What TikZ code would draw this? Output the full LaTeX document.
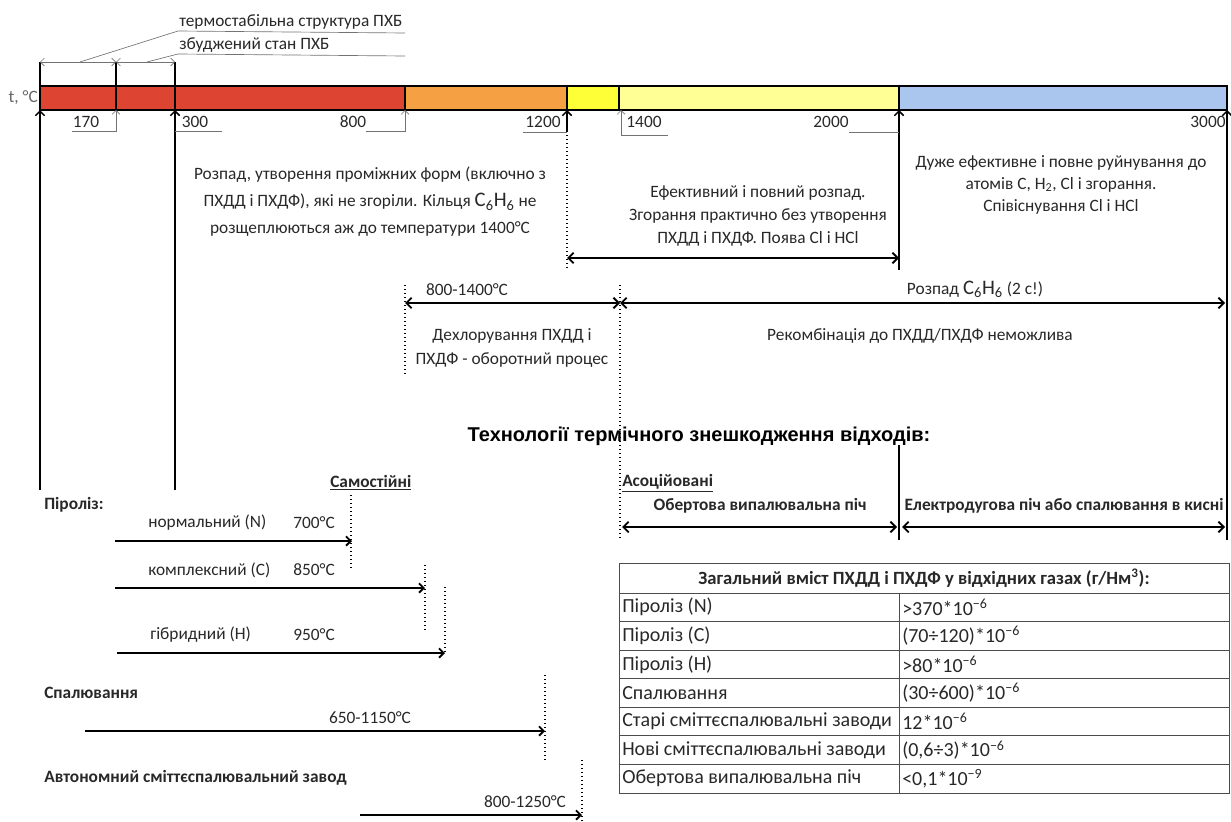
\documentclass[tikz,border=0pt]{standalone}
\usepackage{fontspec}
\setmainfont{Carlito}
\newfontfamily\titlefont{Liberation Sans}
\usetikzlibrary{arrows.meta}

\definecolor{barred}{RGB}{222,68,50}
\definecolor{barorange}{RGB}{245,160,66}
\definecolor{baryellow}{RGB}{255,255,56}
\definecolor{barlight}{RGB}{255,255,150}
\definecolor{barblue}{RGB}{170,198,238}
\definecolor{inkgray}{RGB}{40,40,40}

\newcommand{\benz}{{\fontsize{15.5}{15.5}\selectfont C\textsubscript{6}H\textsubscript{6}}}

\begin{document}
\begin{tikzpicture}[x=0.75pt,y=0.75pt,yscale=-1,xscale=1,
  lbl/.style={inner sep=0.75pt,text=inkgray,font=\fontsize{13}{15}\selectfont},
  blbl/.style={inner sep=0.75pt,text=inkgray,font=\fontsize{13}{15}\selectfont\bfseries},
  tcell/.style={inner sep=0.75pt,text=inkgray,font=\fontsize{15}{17}\selectfont},
  thinarr/.style={draw=black!55,line width=0.5pt,-{Straight Barb[length=3pt,width=6pt]}},
  thickarr/.style={line width=1.1pt,-{Straight Barb[length=3.5pt,width=7pt]}},
  dblarr/.style={line width=1.4pt,{Straight Barb[length=4pt,width=8pt]}-{Straight Barb[length=4pt,width=8pt]}},
  topdbl/.style={draw=black!55,line width=0.5pt,{Straight Barb[length=3pt,width=6pt]}-{Straight Barb[length=3pt,width=6pt]}},
  leader/.style={draw=black!55,line width=0.5pt},
  dotline/.style={line width=1pt,dotted},
  seg/.style={draw=black,line width=0.8pt}]
\useasboundingbox (0,0) rectangle (1231,821);

% temperature bar
\foreach \a/\b/\c in {40/116/barred,116/175/barred,175/405/barred,405/567/barorange,
  567/619/baryellow,619/899/barlight,899/1227/barblue}
  \draw[seg,fill=\c] (\a,86) rectangle (\b,110);
\node[lbl,anchor=east,text=black!60] (tlab) at (39,98) {t, °C};

% tick points under the bar
\coordinate (t0) at (40,110);
\coordinate (t170) at (116,110);
\coordinate (t300) at (175,110);
\coordinate (t800) at (405,110);
\coordinate (t1200) at (567,110);
\coordinate (t1400) at (621,110);
\coordinate (t2000) at (899,110);
\coordinate (t3000) at (1227,110);

% PCB brackets over the bar
\coordinate (p0) at (40,62);
\coordinate (p1) at (116,62);
\coordinate (p2) at (175,62);
\draw[line width=0.8pt] (p0) -- (40,86) (p1) -- (t170) (p2) -- (t300);
\draw[topdbl] (p0) -- (p1);
\draw[topdbl] (p1) -- (p2);
\node[lbl,anchor=south west] (stab) at (178,31) {термостабільна структура ПХБ};
\node[lbl,anchor=south west] (exc) at (178,54) {збуджений стан ПХБ};
\draw[leader] (80,62) -- (stab.south west) -- (405,33);
\draw[leader] (147,62) -- (exc.south west) -- (405,56);

% Text Node: tick values
\node[lbl] (n170) at (86,122) {170};
\node[lbl] (n300) at (195,122) {300};
\node[lbl] (n800) at (353,122) {800};
\node[lbl] (n1200) at (543,122) {1200};
\node[lbl] (n1400) at (644,122) {1400};
\node[lbl] (n2000) at (831,122) {2000};
\node[lbl] (n3000) at (1208,122) {3000};

% long markers from below
\coordinate (b0) at (40,490);
\coordinate (b300) at (175,490);
\coordinate (b2000) at (899,270);
\coordinate (b3000) at (1227,540);
\draw[thickarr] (b0) -- (t0);
\draw[thickarr] (b300) -- (t300);
\draw[thickarr] (b2000) -- (t2000);
\draw[thickarr] (b3000) -- (t3000);
\draw[thickarr] (567,131) -- (t1200);

% leaders for the values
\draw[thinarr] (72,131) -- (116,131) -- (t170);
\draw[leader] (175,131) -- (222,131);
\draw[thinarr] (366,131) -- (405,131) -- (t800);
\draw[leader] (523,132) -- (567,132);
\draw[thinarr] (668,135) -- (621,135) -- (t1400);
\draw[leader] (849,132) -- (899,132);

% dotted limits
\draw[dotline] (567,131) -- (567,270);
\draw[dotline] (405,285) -- (405,375);
\draw[dotline] (620,285) -- (620,540);

% Text Node: zones of decomposition
\node[lbl,align=center,font=\fontsize{13}{20.2}\selectfont] (zone1) at (370,202)
  {Розпад, утворення проміжних форм (включно з\\ПХДД і ПХДФ), які не згоріли. Кільця \benz{} не\\розщеплюються аж до температури 1400°C};
\node[lbl,align=center,font=\fontsize{13}{17}\selectfont] (zone2) at (758,216)
  {Ефективний і повний розпад.\\Згорання практично без утворення\\ПХДД і ПХДФ. Поява Cl і HCl};
\node[lbl,align=center,font=\fontsize{13}{16.5}\selectfont] (zone3) at (1061,185)
  {Дуже ефективне і повне руйнування до\\атомів C, H\textsubscript{2}, Cl і згорання.\\Співіснування Cl і HCl};
\coordinate (z1200) at (567,258);
\coordinate (z2000) at (899,258);
\draw[dblarr] (z1200) -- (z2000);

% dechlorination and C6H6 decay
\coordinate (d800) at (405,303);
\coordinate (d1400) at (620,303);
\coordinate (d3000) at (1225,303);
\draw[dblarr] (d800) -- (d1400);
\draw[dblarr] (d1400) -- (d3000);
\node[lbl] (r814) at (467,290) {800-1400°C};
\node[lbl] (decay) at (975,289) {Розпад \benz{} (2 с!)};
\node[lbl,align=center,font=\fontsize{13}{18}\selectfont] (dechl) at (512,348)
  {Дехлорування ПХДД і\\ПХДФ - оборотний процес};
\node[lbl] (recomb) at (920,336) {Рекомбінація до ПХДД/ПХДФ неможлива};

% Text Node: technologies
\node[inner sep=0.75pt,font=\titlefont\fontsize{15}{17}\selectfont\bfseries] (title) at (699,436)
  {Технології термічного знешкодження відходів:};
\draw[line width=0.8pt] (899,445) -- (899,540);

\node[blbl,anchor=west] (indep) at (329,483) {\underline{Самостійні}};
\node[blbl,anchor=west] (assoc) at (621,483) {\underline{Асоційовані}};
\node[blbl] (rotk) at (760,506) {Обертова випалювальна піч};
\node[blbl] (arcf) at (1064,506) {Електродугова піч або спалювання в кисні};
\coordinate (a0) at (622,527);
\coordinate (a1) at (897,527);
\coordinate (a2) at (902,527);
\coordinate (a3) at (1225,527);
\draw[dblarr] (a0) -- (a1);
\draw[dblarr] (a2) -- (a3);

% pyrolysis
\node[blbl,anchor=west] (pyro) at (43,505) {Піроліз:};
\node[lbl,anchor=west] (pN) at (147,523) {нормальний (N)};
\node[lbl,anchor=west] (pC) at (147,570) {комплексний (C)};
\node[lbl,anchor=west] (pH) at (149,635) {гібридний (H)};
\node[lbl,anchor=west] (tN) at (292,523) {700°C};
\node[lbl,anchor=west] (tC) at (292,570) {850°C};
\node[lbl,anchor=west] (tH) at (292,635) {950°C};
\coordinate (sN) at (115,541);
\coordinate (eN) at (352,541);
\coordinate (sC) at (115,588);
\coordinate (eC) at (425,588);
\coordinate (sH) at (117,653);
\coordinate (eH) at (445,653);
\draw[thickarr,line width=1.4pt] (sN) -- (eN);
\draw[thickarr,line width=1.4pt] (sC) -- (eC);
\draw[thickarr,line width=1.4pt] (sH) -- (eH);
\draw[dotline] (351,495) -- (351,568);
\draw[dotline] (425,565) -- (425,632);
\draw[dotline] (445,587) -- (445,655);

% incineration
\node[blbl,anchor=west] (burn) at (43,693) {Спалювання};
\node[lbl] (r6511) at (370,718) {650-1150°C};
\coordinate (sB) at (85,731);
\coordinate (eB) at (545,731);
\draw[thickarr,line width=1.4pt] (sB) -- (eB);
\draw[dotline] (545,675) -- (545,762);

\node[blbl,anchor=west] (plant) at (43,778) {Автономний сміттєспалювальний завод};
\node[lbl] (r8125) at (525,802) {800-1250°C};
\coordinate (sP) at (360,815);
\coordinate (eP) at (582,815);
\draw[thickarr,line width=1.4pt] (sP) -- (eP);
\draw[dotline] (582,760) -- (582,821);

% table of emissions
\draw[line width=0.6pt,draw=black!70] (619,563) rectangle (1229,793);
\draw[line width=0.6pt,draw=black!70] (619,593) -- (1229,593);
\draw[line width=0.6pt,draw=black!70] (899,593) -- (899,793);
\node[inner sep=0.75pt,text=inkgray,font=\fontsize{14}{16}\selectfont\bfseries] (thead) at (924,578)
  {Загальний вміст ПХДД і ПХДФ у відхідних газах (г/Нм\textsuperscript{3}):};
\foreach \lab/\val [count=\i] in {
  {Піроліз (N)}/{>370*10\textsuperscript{−6}},
  {Піроліз (C)}/{(70÷120)*10\textsuperscript{−6}},
  {Піроліз (H)}/{>80*10\textsuperscript{−6}},
  {Спалювання}/{(30÷600)*10\textsuperscript{−6}},
  {Старі сміттєспалювальні заводи}/{12*10\textsuperscript{−6}},
  {Нові сміттєспалювальні заводи}/{(0,6÷3)*10\textsuperscript{−6}},
  {Обертова випалювальна піч}/{<0,1*10\textsuperscript{−9}}}{
  \node[tcell,anchor=west] (row\i) at (621,{593+28.57*(\i-0.5)}) {\lab};
  \node[tcell,anchor=west] (val\i) at (901,{593+28.57*(\i-0.5)}) {\val};
  \draw[line width=0.6pt,draw=black!70] (619,{593+28.57*\i}) -- (1229,{593+28.57*\i});
}
\end{tikzpicture}
\end{document}
